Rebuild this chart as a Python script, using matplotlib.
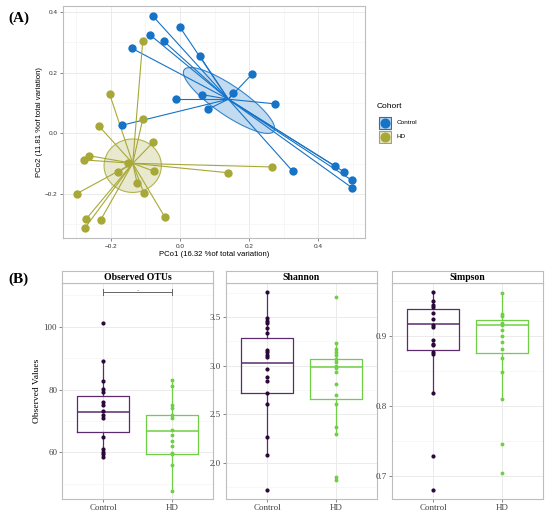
import numpy as np
import matplotlib.pyplot as plt
from matplotlib.patches import Polygon, Rectangle

# ---- panel A: PCoA scores ----
ctrl_pc1 = [-0.078, 0.000, -0.087, -0.047, -0.140, 0.057, 0.210, 0.154, 0.065,
            -0.011, 0.274, 0.081, -0.169, 0.327, 0.449, 0.475, 0.498, 0.499]
ctrl_pc2 = [0.385, 0.349, 0.324, 0.303, 0.280, 0.255, 0.196, 0.132, 0.127,
            0.112, 0.097, 0.079, 0.026, -0.126, -0.108, -0.127, -0.155, -0.180]
hd_pc1 = [-0.108, -0.204, -0.108, -0.236, -0.077, -0.264, -0.277, -0.151, -0.181,
          -0.076, 0.139, 0.267, -0.124, -0.105, -0.299, -0.044, -0.273, -0.230, -0.276]
hd_pc2 = [0.303, 0.129, 0.046, 0.025, -0.029, -0.074, -0.088, -0.099, -0.129,
          -0.125, -0.130, -0.111, -0.165, -0.196, -0.199, -0.276, -0.284, -0.286, -0.313]
ctrl_centroid = (0.140, 0.112)
hd_centroid = (-0.137, -0.099)
# ellipse: centre, half major axis vector, half minor axis vector (data units)
ctrl_ellipse = ((0.142, 0.108), (0.130, -0.101), (0.024, 0.040))
hd_ellipse = ((-0.137, -0.107), (0.083, 0.0), (0.0, 0.088))
cohorts = ["Control", "HD"]

# ---- panel B: alpha diversity ----
groups = ["Control", "HD"]
obs_ctrl = [101.1, 89.0, 82.8, 80.1, 79.3, 76.1, 75.0, 73.2, 72.0, 71.0,
            64.9, 61.2, 60.3, 59.6, 58.7]
obs_hd = [83.2, 81.1, 75.0, 74.0, 72.0, 71.1, 67.0, 65.7, 63.8, 61.9,
          59.9, 59.4, 56.1, 47.9]
shan_ctrl = [3.760, 3.488, 3.464, 3.444, 3.385, 3.334, 3.162, 3.144, 3.110,
             3.086, 2.962, 2.886, 2.845, 2.721, 2.604, 2.267, 2.078, 1.717]
shan_hd = [3.705, 3.237, 3.169, 3.144, 3.110, 3.065, 3.041, 2.997, 2.972,
           2.938, 2.807, 2.697, 2.604, 2.370, 2.295, 1.854, 1.820]
simp_ctrl = [0.9629, 0.9505, 0.9443, 0.941, 0.9324, 0.9238, 0.9157, 0.9133,
             0.8943, 0.8886, 0.887, 0.8776, 0.874, 0.818, 0.7286, 0.680]
simp_hd = [0.961, 0.932, 0.929, 0.919, 0.916, 0.908, 0.900, 0.892, 0.882,
           0.868, 0.848, 0.8095, 0.7457, 0.7038]
# box stats: (whislo, q1, med, q3, whishi)
obs_box = [(58.7, 66.4, 72.9, 78.0, 89.0), (47.9, 59.4, 66.9, 71.9, 83.2)]
shan_box = [(2.078, 2.721, 3.028, 3.289, 3.760), (2.295, 2.656, 2.983, 3.065, 3.237)]
simp_box = [(0.818, 0.880, 0.9167, 0.938, 0.9629), (0.8095, 0.875, 0.915, 0.923, 0.961)]

BLUE = "#1673c6"
OLIVE = "#a8a838"
BLUE_FILL = "#b9d5ee"
OLIVE_FILL = "#e6e6c8"
PURPLE = "#5b2b6e"
GREEN = "#6fcf45"
DOT_C = "#2a0838"
GRID = "#ebebeb"
BORDER = "#bdbdbd"

fig = plt.figure(figsize=(5.5, 5.14), dpi=100)

# ================= panel A =================
axA = fig.add_axes([63 / 550, 1 - 238 / 514, 302 / 550, 232 / 514])
axA.set_xlim(-0.339, 0.536)
axA.set_ylim(-0.345, 0.419)
axA.set_xticks([-0.2, 0.0, 0.2, 0.4])
axA.set_yticks([-0.2, 0.0, 0.2, 0.4])
axA.set_xticks([-0.3, -0.1, 0.1, 0.3, 0.5], minor=True)
axA.set_yticks([-0.3, -0.1, 0.1, 0.3], minor=True)
axA.grid(True, which="major", color=GRID, lw=0.7)
axA.grid(True, which="minor", color="#f4f4f4", lw=0.5)
axA.set_axisbelow(True)
for s in axA.spines.values():
    s.set_color(BORDER)
    s.set_linewidth(0.8)
axA.tick_params(which="both", length=2, width=0.5, color="#555555", labelsize=4.6,
                labelcolor="#333333", pad=2)
axA.tick_params(which="minor", length=0)
axA.set_xlabel("PCo1 (16.32 %of total variation)", fontsize=5.6,
               family="Liberation Sans", labelpad=1.5)
axA.set_ylabel("PCo2 (11.81 %of total variation)", fontsize=5.6,
               family="Liberation Sans", labelpad=1.5)
for lab in axA.get_xticklabels() + axA.get_yticklabels():
    lab.set_family("Liberation Sans")


def ellipse_pts(spec):
    (cx, cy), (ax_, ay_), (bx_, by_) = spec
    t = np.linspace(0, 2 * np.pi, 200)
    return np.column_stack([cx + ax_ * np.cos(t) + bx_ * np.sin(t),
                            cy + ay_ * np.cos(t) + by_ * np.sin(t)])


axA.add_patch(Polygon(ellipse_pts(ctrl_ellipse), closed=True, facecolor=BLUE_FILL,
                      edgecolor=BLUE, lw=0.8, alpha=0.85, zorder=1))
axA.add_patch(Polygon(ellipse_pts(hd_ellipse), closed=True, facecolor=OLIVE_FILL,
                      edgecolor=OLIVE, lw=0.8, alpha=0.85, zorder=1))

for xs, ys, cen, col in [(ctrl_pc1, ctrl_pc2, ctrl_centroid, BLUE),
                         (hd_pc1, hd_pc2, hd_centroid, OLIVE)]:
    for x, y in zip(xs, ys):
        axA.plot([cen[0], x], [cen[1], y], color=col, lw=0.8, zorder=2)
axA.scatter(hd_pc1, hd_pc2, s=36, color=OLIVE, zorder=3, linewidths=0)
axA.scatter(ctrl_pc1, ctrl_pc2, s=36, color=BLUE, zorder=3, linewidths=0)

# legend drawn by hand (ggplot style keys)
legax = fig.add_axes([378 / 550, 1 - 144 / 514, 14 / 550, 28 / 514])
legax.set_xlim(0, 1)
legax.set_ylim(0, 2)
legax.axis("off")
for i, (name, col, fill) in enumerate([(cohorts[0], BLUE, BLUE_FILL),
                                       (cohorts[1], OLIVE, OLIVE_FILL)]):
    yb = 1 - i
    legax.add_patch(Rectangle((0.04, yb + 0.04), 0.92, 0.92, facecolor=fill,
                              edgecolor=col, lw=0.8))
    legax.plot([0.5], [yb + 0.5], "o", color=col, markersize=6.2)
    legax.text(1.35, yb + 0.5, name, fontsize=4.6, family="Liberation Sans",
               va="center", ha="left", transform=legax.transData, clip_on=False)
fig.text(377 / 550, 1 - 107 / 514, "Cohort", fontsize=6, family="Liberation Sans",
         va="center", ha="left")

fig.text(8 / 550, 1 - 18 / 514, "(A)", fontsize=11, family="Liberation Serif",
         fontweight="bold", va="center")
fig.text(8 / 550, 1 - 279 / 514, "(B)", fontsize=11, family="Liberation Serif",
         fontweight="bold", va="center")

# ================= panel B =================
facets = [
    ("Observed OTUs", obs_ctrl, obs_hd, obs_box, (45.2, 113.9), [60, 80, 100], [50, 70, 90, 110], 62),
    ("Shannon", shan_ctrl, shan_hd, shan_box, (1.624, 3.853), [2.0, 2.5, 3.0, 3.5], [1.75, 2.25, 2.75, 3.25, 3.75], 226),
    ("Simpson", simp_ctrl, simp_hd, simp_box, (0.667, 0.9757), [0.7, 0.8, 0.9], [0.75, 0.85, 0.95], 392),
]
for title, vc, vh, box, ylim, maj, mnr, left in facets:
    ax = fig.add_axes([left / 550, 1 - 499 / 514, 151 / 550, 216 / 514])

    stats = []
    for b in box:
        stats.append(dict(whislo=b[0], q1=b[1], med=b[2], q3=b[3], whishi=b[4], fliers=[]))
    for i, col in enumerate([PURPLE, GREEN]):
        ax.bxp([stats[i]], positions=[i + 1], widths=0.75, showfliers=False,
               showcaps=False, patch_artist=False, manage_ticks=False,
               boxprops=dict(color=col, lw=0.9), medianprops=dict(color=col, lw=1.1),
               whiskerprops=dict(color=col, lw=0.9))
    ax.plot([1] * len(vc), vc, "o", color=DOT_C, markersize=2.0, ls="", zorder=4)
    ax.plot([2] * len(vh), vh, "o", color=GREEN, markersize=1.8, ls="", zorder=4)

    ax.set_xlim(0.4, 2.6)
    ax.set_ylim(*ylim)
    ax.set_xticks([1, 2])
    ax.set_xticklabels(groups)
    ax.set_yticks(maj)
    if title == "Shannon":
        ax.set_yticklabels([f"{v:.1f}" for v in maj])
    ax.set_yticks(mnr, minor=True)
    ax.grid(True, which="major", color=GRID, lw=0.7)
    ax.grid(True, which="minor", axis="y", color="#f4f4f4", lw=0.5)
    ax.set_axisbelow(True)
    for s in ax.spines.values():
        s.set_color(BORDER)
        s.set_linewidth(0.8)
    ax.tick_params(which="both", length=2, width=0.5, color="#555555", labelsize=6.5,
                   labelcolor="#444444", pad=1.5)
    ax.tick_params(which="minor", length=0)
    for lab in ax.get_xticklabels() + ax.get_yticklabels():
        lab.set_family("Liberation Serif")

    if title == "Observed OTUs":
        ax.set_ylabel("Observed Values", fontsize=6.8, family="Liberation Serif", labelpad=2)
        ax.plot([1, 2], [111.0, 111.0], color="#666666", lw=0.7)
        ax.plot([1, 1], [110.1, 111.9], color="#666666", lw=0.7)
        ax.plot([2, 2], [110.1, 111.9], color="#666666", lw=0.7)
        ax.text(1.5, 111.1, ".", ha="center", va="bottom", fontsize=5, color="#444444")

    sax = fig.add_axes([left / 550, 1 - 283 / 514, 151 / 550, 12 / 514])
    sax.set_xticks([])
    sax.set_yticks([])
    for s in sax.spines.values():
        s.set_color(BORDER)
        s.set_linewidth(0.8)
    sax.text(0.5, 0.45, title, ha="center", va="center", fontsize=7,
             family="Liberation Serif", fontweight="bold", transform=sax.transAxes)

fig.savefig("out.png", dpi=100)
